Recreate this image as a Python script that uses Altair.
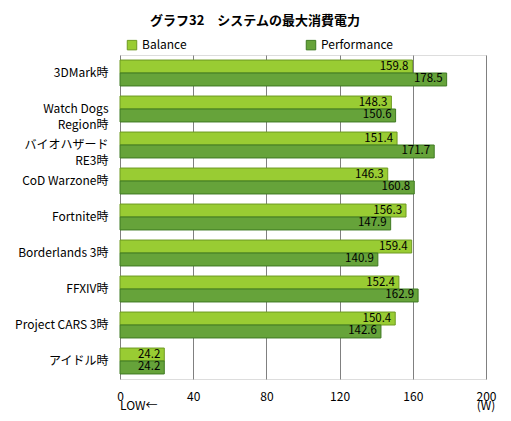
import altair as alt
import pandas as pd

categories = ["3DMark時", "Watch Dogs\nRegion時", "バイオハザード\nRE3時", "CoD Warzone時",
              "Fortnite時", "Borderlands 3時", "FFXIV時", "Project CARS 3時", "アイドル時"]
balance = [159.8, 148.3, 151.4, 146.3, 156.3, 159.4, 152.4, 150.4, 24.2]
performance = [178.5, 150.6, 171.7, 160.8, 147.9, 140.9, 162.9, 142.6, 24.2]
series = ["Balance", "Performance"]
colors = ["#99CC33", "#66A33A"]
strokes = ["#6E9A22", "#3F7A22"]
x_ticks = [0, 40, 80, 120, 160, 200]

rows = []
for c, b, p in zip(categories, balance, performance):
    rows.append({"cat": c, "series": "Balance", "value": b, "label": f"{b:.1f}"})
    rows.append({"cat": c, "series": "Performance", "value": p, "label": f"{p:.1f}"})
df = pd.DataFrame(rows)

FONT = "Noto Sans CJK JP"

y_enc = alt.Y("cat:N", sort=categories, title=None,
              scale=alt.Scale(paddingInner=0.28, paddingOuter=0.14),
              axis=alt.Axis(labelExpr="split(datum.label, '\\n')", labelFontSize=12,
                            labelFont=FONT, labelColor="#000000", labelPadding=12,
                            labelLineHeight=16, ticks=False, domain=False, labelLimit=200))
x_enc = alt.X("value:Q", title=None,
              scale=alt.Scale(domain=[0, 200], nice=False),
              axis=alt.Axis(values=x_ticks, grid=True, gridColor="#808080", gridOpacity=1,
                            ticks=False, domain=False, labelFontSize=12, labelFont=FONT,
                            labelColor="#000000", labelPadding=12, labelFlush=False))

base = alt.Chart(df)

bars = base.mark_bar(strokeWidth=1).encode(
    y=y_enc,
    x=x_enc,
    yOffset=alt.YOffset("series:N", sort=series, scale=alt.Scale(paddingInner=0, paddingOuter=0)),
    color=alt.Color("series:N", sort=series,
                    scale=alt.Scale(domain=series, range=colors),
                    legend=alt.Legend(title=None, orient="none", direction="horizontal",
                                      legendX=6, legendY=-16, symbolType="square",
                                      symbolSize=90, symbolStrokeWidth=1,
                                      labelFontSize=12, labelFont=FONT, labelColor="#000000",
                                      columnPadding=117, labelOffset=4,
                                      symbolStrokeColor="#4a7a22")),
    stroke=alt.Stroke("series:N", sort=series,
                      scale=alt.Scale(domain=series, range=strokes), legend=None),
)

texts = base.mark_text(align="right", dx=-4, fontSize=11.5, font=FONT, color="#000000",
                       baseline="middle").encode(
    y=alt.Y("cat:N", sort=categories),
    x="value:Q",
    yOffset=alt.YOffset("series:N", sort=series),
    text="label:N",
)

notes_df = pd.DataFrame({"x": [0, 200], "t": ["LOW←", "(W)"]})
low = alt.Chart(notes_df.iloc[[0]]).mark_text(align="left", fontSize=12, font=FONT,
                                               color="#000000", baseline="middle").encode(
    x="x:Q", y=alt.value(351), text="t:N")
unit = alt.Chart(notes_df.iloc[[1]]).mark_text(align="center", fontSize=12, font=FONT,
                                                color="#000000", baseline="middle").encode(
    x="x:Q", y=alt.value(351), text="t:N")

chart = alt.layer(bars, texts, low, unit).properties(
    width=366, height=324,
    title=alt.TitleParams("グラフ32　システムの最大消費電力", font=FONT, fontSize=13,
                          fontWeight="bold", color="#000000", anchor="middle",
                          dx=-48, offset=11),
    autosize=alt.AutoSizeParams(type="none"),
    padding={"left": 112, "top": 47, "right": 17, "bottom": 34},
).configure_view(
    fill="#C0C0C0", stroke="#808080", strokeWidth=1
).configure(background="#FFFFFF")

chart.save("out.html", embed_options={"renderer": "svg", "actions": False})
